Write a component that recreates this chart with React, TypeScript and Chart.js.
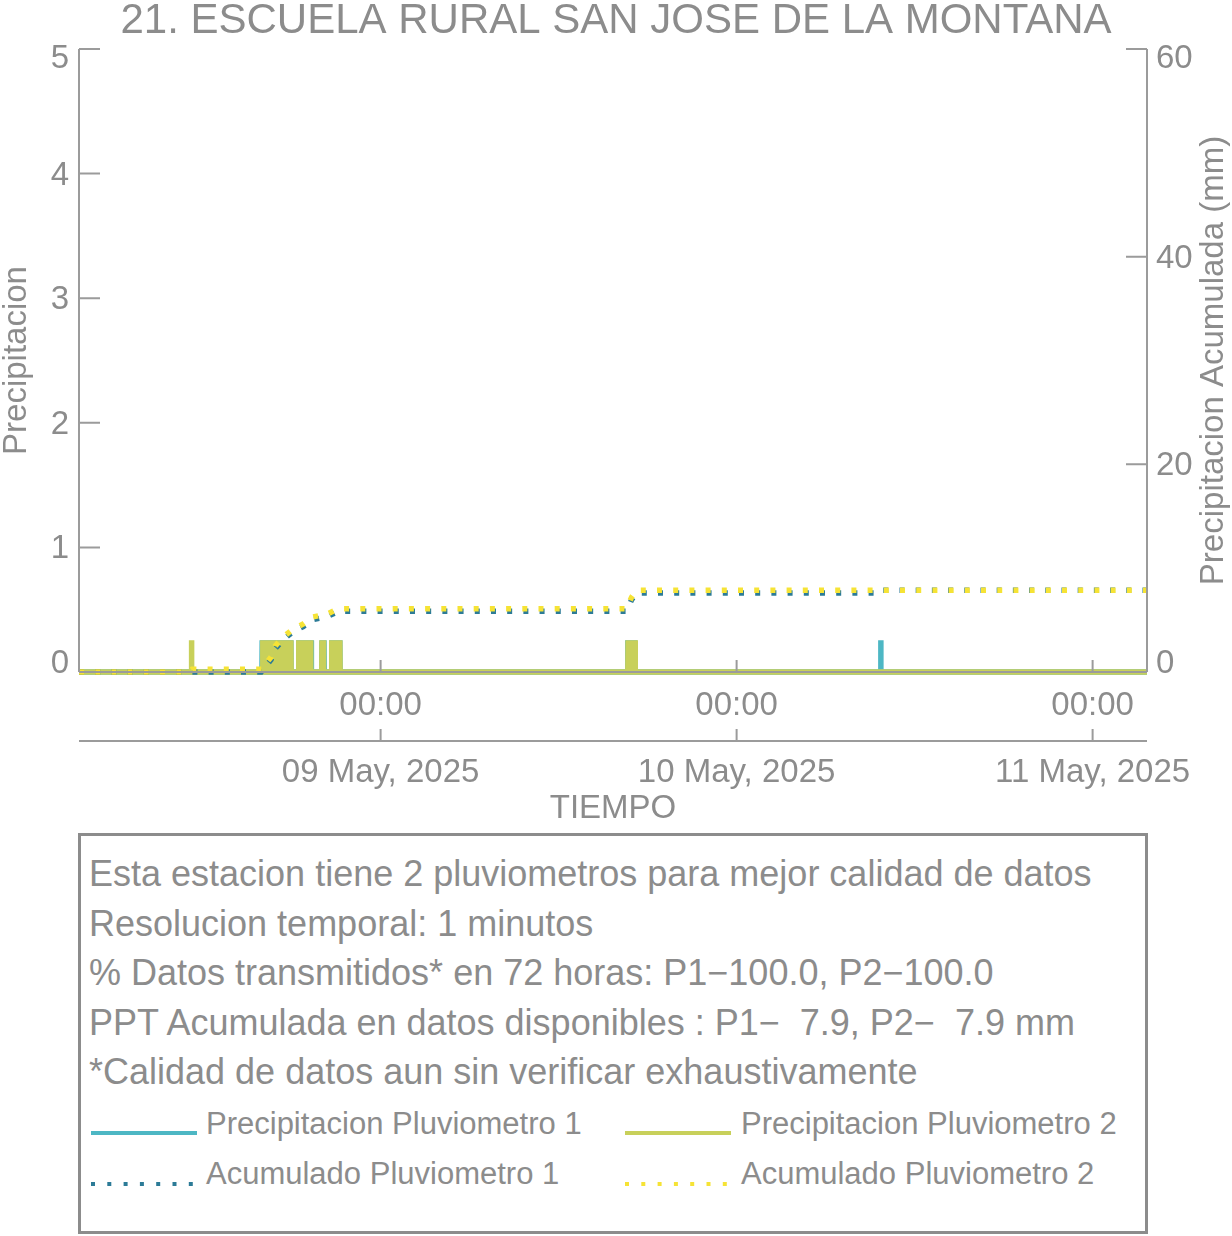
import React, { useEffect, useRef } from "react";
import { Chart, registerables } from "chart.js";

Chart.register(...registerables);

// ---------- data (x = minutes since 08 May 2025 03:40, 1-minute resolution, 72 h) ----------
const TOTAL_MINUTES = 4320;
const DAY_TICK_MINUTES = [1220, 2660, 4100];
const TIME_TICK_LABELS = ["00:00", "00:00", "00:00"];
const DATE_TICK_LABELS = ["09 May, 2025", "10 May, 2025", "11 May, 2025"];
const PRECIP_TICKS = [0, 1, 2, 3, 4, 5];
const ACUM_TICKS = [0, 20, 40, 60];

const TIP_MM = 0.254;
// minutes with one bucket tip (0.254 mm) recorded
const P1_TIP_MINUTES = [
  741, 753, 764, 774, 784, 795, 805, 815, 826, 836, 847, 857,
  889, 901, 913, 925, 939,
  983, 991,
  1022, 1036, 1044, 1055,
  2220, 2226, 2230, 2235, 2240, 2244, 2248,
  3243,
];
const P2_TIP_MINUTES = [
  455,
  743, 753, 764, 774, 784, 795, 805, 815, 826, 836, 847, 857,
  889, 901, 913, 925, 937,
  983, 989,
  1022, 1033, 1044, 1055,
  2221, 2226, 2230, 2235, 2240, 2244, 2249,
];

// accumulated precipitation (mm) read at these minutes
const ACUM1_MINUTES = [0, 737, 745, 777, 794, 826, 866, 907, 943, 1004, 1049, 2215, 2235, 2255, 3240, 3246, 4320];
const ACUM1_MM = [0, 0, 0.25, 1.2, 2.25, 3.1, 3.9, 4.37, 5.03, 5.33, 5.84, 5.84, 6.95, 7.62, 7.62, 7.87, 7.87];
const ACUM2_MINUTES = [0, 445, 457, 737, 745, 777, 794, 826, 866, 907, 943, 1004, 1049, 2215, 2235, 2255, 4320];
const ACUM2_MM = [0, 0, 0.254, 0.254, 0.5, 1.44, 2.5, 3.37, 4.14, 4.62, 5.29, 5.58, 6.1, 6.1, 7.2, 7.87, 7.87];

const TITLE = "21. ESCUELA RURAL SAN JOSE DE LA MONTANA";
const Y_TITLE = "Precipitacion";
const Y2_TITLE = "Precipitacion Acumulada (mm)";
const X_TITLE = "TIEMPO";

const INFO_LINES = [
  "Esta estacion tiene 2 pluviometros para mejor calidad de datos",
  "Resolucion temporal: 1 minutos",
  "% Datos transmitidos* en 72 horas: P1\u2212100.0, P2\u2212100.0",
  "PPT Acumulada en datos disponibles : P1\u2212  7.9, P2\u2212  7.9 mm",
  "*Calidad de datos aun sin verificar exhaustivamente",
];
const LEGEND_LABELS = [
  "Precipitacion Pluviometro 1",
  "Precipitacion Pluviometro 2",
  "Acumulado Pluviometro 1",
  "Acumulado Pluviometro 2",
];

// ---------- styles ----------
const FONT = '"Liberation Sans", Arial, Helvetica, sans-serif';
const TEXT = "#8c8c8c";
const AXIS = "#9b9b9b";
const C_P1 = "#4db7c4";
const C_P2 = "#c8d05a";
const C_A1 = "#2c7b97";
const C_A2 = "#f6e335";
const LEGEND_COLORS = [C_P1, C_P2, C_A1, C_A2];
const LEGEND_DOTTED = [false, false, true, true];

function precipPoints(tips: number[]) {
  const pts: { x: number; y: number }[] = [{ x: 0, y: 0 }];
  for (const m of tips) {
    pts.push({ x: m - 1, y: 0 }, { x: m, y: TIP_MM }, { x: m + 1, y: 0 });
  }
  pts.push({ x: TOTAL_MINUTES, y: 0 });
  return pts;
}

function zipPoints(xs: number[], ys: number[]) {
  return xs.map((x, i) => ({ x, y: ys[i] }));
}

const axesPlugin = {
  id: "customAxes",
  afterDatasetsDraw(chart: any) {
    const { ctx, chartArea: a, scales } = chart;
    ctx.save();
    ctx.strokeStyle = AXIS;
    ctx.lineWidth = 2;
    ctx.beginPath();
    ctx.moveTo(a.left, a.top);
    ctx.lineTo(a.left, a.bottom);
    ctx.moveTo(a.right, a.top);
    ctx.lineTo(a.right, a.bottom);
    ctx.moveTo(a.left, a.bottom);
    ctx.lineTo(a.right, a.bottom);
    PRECIP_TICKS.forEach((v) => {
      const y = scales.y.getPixelForValue(v);
      ctx.moveTo(a.left, y);
      ctx.lineTo(a.left + 21, y);
    });
    ACUM_TICKS.forEach((v) => {
      const y = scales.y1.getPixelForValue(v);
      ctx.moveTo(a.right, y);
      ctx.lineTo(a.right - 21, y);
    });
    DAY_TICK_MINUTES.forEach((m) => {
      const x = scales.x.getPixelForValue(m);
      ctx.moveTo(x, a.bottom);
      ctx.lineTo(x, a.bottom - 12);
    });
    const y2 = scales.x2.top;
    ctx.moveTo(a.left, y2);
    ctx.lineTo(a.right, y2);
    DAY_TICK_MINUTES.forEach((m) => {
      const x = scales.x2.getPixelForValue(m);
      ctx.moveTo(x, y2);
      ctx.lineTo(x, y2 - 12);
    });
    ctx.stroke();

    // y tick labels (kept inside the axis range like the original)
    ctx.fillStyle = TEXT;
    ctx.font = `33px ${FONT}`;
    ctx.textBaseline = "middle";
    const clampY = (y: number) => Math.min(Math.max(y, a.top + 8), a.bottom - 10) + 2;
    ctx.textAlign = "right";
    PRECIP_TICKS.forEach((v) => {
      ctx.fillText(String(v), a.left - 10, clampY(scales.y.getPixelForValue(v)));
    });
    ctx.textAlign = "left";
    ACUM_TICKS.forEach((v) => {
      ctx.fillText(String(v), a.right + 9, clampY(scales.y1.getPixelForValue(v)));
    });

    // right axis title, reading bottom to top
    ctx.textAlign = "center";
    ctx.translate(1214, (a.top + a.bottom) / 2);
    ctx.rotate(-Math.PI / 2);
    ctx.fillText(Y2_TITLE, 0, 0);
    ctx.restore();
  },
};

export default function App() {
  const canvasRef = useRef<HTMLCanvasElement | null>(null);

  useEffect(() => {
    document.body.style.margin = "0";
    const canvas = canvasRef.current;
    if (!canvas) return;
    Chart.defaults.font.family = FONT;
    const dayTicks = (s: any) => {
      s.ticks = DAY_TICK_MINUTES.map((v) => ({ value: v }));
    };
    const tickFont = { family: FONT, size: 33, lineHeight: 1.2 };
    const chart = new Chart(canvas, {
      type: "line",
      data: {
        datasets: [
          {
            label: LEGEND_LABELS[3],
            data: zipPoints(ACUM2_MINUTES, ACUM2_MM),
            yAxisID: "y1",
            xAxisID: "x",
            borderColor: C_A2,
            borderWidth: 5.5,
            borderDash: [5, 11.2],
            borderCapStyle: "butt",
            pointRadius: 0,
            tension: 0,
            order: 0,
            clip: 10,
          } as any,
          {
            label: LEGEND_LABELS[2],
            data: zipPoints(ACUM1_MINUTES, ACUM1_MM),
            yAxisID: "y1",
            xAxisID: "x",
            borderColor: C_A1,
            borderWidth: 5.5,
            borderDash: [5, 11.2],
            borderCapStyle: "butt",
            pointRadius: 0,
            tension: 0,
            order: 1,
            clip: 10,
          },
          {
            label: LEGEND_LABELS[1],
            data: precipPoints(P2_TIP_MINUTES),
            yAxisID: "y",
            xAxisID: "x",
            borderColor: C_P2,
            borderWidth: 5.5,
            pointRadius: 0,
            tension: 0,
            order: 2,
            clip: 10,
          },
          {
            label: LEGEND_LABELS[0],
            data: precipPoints(P1_TIP_MINUTES),
            yAxisID: "y",
            xAxisID: "x",
            borderColor: C_P1,
            borderWidth: 5.5,
            pointRadius: 0,
            tension: 0,
            order: 3,
            clip: 10,
          },
        ],
      },
      options: {
        responsive: false,
        animation: false,
        events: [],
        layout: { padding: 0 },
        plugins: {
          legend: { display: false },
          tooltip: { enabled: false },
          title: {
            display: true,
            text: TITLE,
            color: TEXT,
            font: { family: FONT, size: 42, weight: "normal", lineHeight: 1 },
            padding: { top: 0, bottom: 7 },
          },
        },
        scales: {
          x: {
            type: "linear",
            position: "bottom",
            weight: 0,
            min: 0,
            max: TOTAL_MINUTES,
            afterBuildTicks: dayTicks,
            afterFit: (s: any) => {
              s.height = 69;
            },
            grid: { display: false, drawTicks: false },
            border: { display: false },
            ticks: {
              autoSkip: false,
              maxRotation: 0,
              padding: 14,
              color: TEXT,
              font: tickFont,
              callback: (_v: any, i: number) => TIME_TICK_LABELS[i],
            },
          },
          x2: {
            type: "linear",
            position: "bottom",
            weight: 1,
            min: 0,
            max: TOTAL_MINUTES,
            afterBuildTicks: dayTicks,
            afterFit: (s: any) => {
              s.height = 89;
            },
            grid: { display: false, drawTicks: false },
            border: { display: false },
            ticks: {
              autoSkip: false,
              maxRotation: 0,
              padding: 12,
              color: TEXT,
              font: tickFont,
              callback: (_v: any, i: number) => DATE_TICK_LABELS[i],
            },
            title: {
              display: true,
              text: X_TITLE,
              color: TEXT,
              font: { family: FONT, size: 33, lineHeight: 1 },
              padding: { top: 0, bottom: 5 },
            },
          },
          y: {
            type: "linear",
            position: "left",
            min: 0,
            max: 5,
            afterBuildTicks: (s: any) => {
              s.ticks = PRECIP_TICKS.map((v) => ({ value: v }));
            },
            afterFit: (s: any) => {
              s.width = 79;
            },
            grid: { display: false, drawTicks: false },
            border: { display: false },
            ticks: { display: false },
            title: {
              display: true,
              text: Y_TITLE,
              color: TEXT,
              font: { family: FONT, size: 33, lineHeight: 1 },
              padding: { top: 0, bottom: 0 },
            },
          },
          y1: {
            type: "linear",
            position: "right",
            min: 0,
            max: 60,
            afterBuildTicks: (s: any) => {
              s.ticks = ACUM_TICKS.map((v) => ({ value: v }));
            },
            afterFit: (s: any) => {
              s.width = 85;
            },
            grid: { display: false, drawTicks: false },
            border: { display: false },
            ticks: { display: false },
          },
        },
      } as any,
      plugins: [axesPlugin],
    });
    return () => chart.destroy();
  }, []);

  const legendItems = LEGEND_LABELS.map((label, i) => {
    const col = i % 2;
    const row = Math.floor(i / 2);
    const sampleLeft = col === 0 ? 10 : 544;
    const textLeft = col === 0 ? 125 : 660;
    const textCenter = row === 0 ? 288 : 338;
    const lineCenter = row === 0 ? 297 : 348;
    return (
      <React.Fragment key={label}>
        <svg
          width={106}
          height={6}
          style={{ position: "absolute", left: sampleLeft, top: lineCenter - 3 }}
        >
          <line
            x1={0}
            y1={3}
            x2={106}
            y2={3}
            stroke={LEGEND_COLORS[i]}
            strokeWidth={4}
            strokeDasharray={LEGEND_DOTTED[i] ? "4 12.3" : undefined}
          />
        </svg>
        <div
          style={{
            position: "absolute",
            left: textLeft,
            top: textCenter - 20,
            height: 40,
            lineHeight: "40px",
            fontSize: 31,
            whiteSpace: "pre",
          }}
        >
          {label}
        </div>
      </React.Fragment>
    );
  });

  return (
    <div style={{ position: "relative", width: 1232, height: 1236, background: "#fff" }}>
      <canvas
        ref={canvasRef}
        width={1232}
        height={830}
        style={{ position: "absolute", left: 0, top: 0, width: 1232, height: 830 }}
      />
      <div
        style={{
          position: "absolute",
          left: 78,
          top: 833,
          width: 1070,
          height: 401,
          border: `3px solid ${TEXT}`,
          boxSizing: "border-box",
          fontFamily: FONT,
          color: TEXT,
        }}
      >
        <div
          style={{
            position: "absolute",
            left: 8,
            top: 13,
            fontSize: 36,
            lineHeight: "49.5px",
            whiteSpace: "pre",
          }}
        >
          {INFO_LINES.map((l) => (
            <div key={l}>{l}</div>
          ))}
        </div>
        {legendItems}
      </div>
    </div>
  );
}
